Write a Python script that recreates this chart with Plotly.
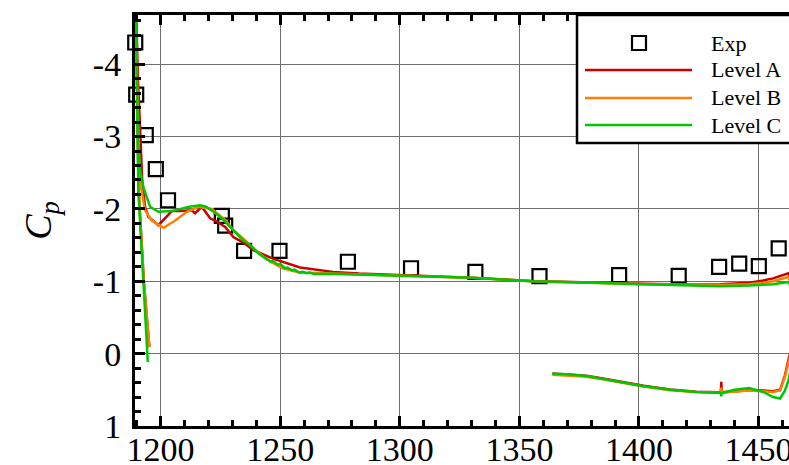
import plotly.graph_objects as go

# ---------------- data ----------------
series_names = ["Exp", "Level A", "Level B", "Level C"]
series_colors = ["black", "#CC0000", "#FF8000", "#00C800"]

exp_x = [1189.4, 1189.8, 1193.8, 1198.0, 1203.1, 1225.6, 1227.0, 1234.9, 1249.7, 1278.3,
         1304.7, 1331.6, 1358.4, 1391.7, 1416.6, 1433.5, 1441.9, 1450.1, 1458.4, 1210.7]
exp_cp = [-4.30, -3.58, -3.02, -2.55, -2.12, -1.905, -1.77, -1.42, -1.42, -1.27,
          -1.18, -1.13, -1.07, -1.085, -1.075, -1.20, -1.245, -1.21, -1.455, 1.01]

# Level A (lower-right surface -> trailing edge -> upper surface -> leading edge -> lower-left)
levelA_x = [1363.8, 1370, 1378, 1385, 1392, 1402, 1413, 1424, 1434.2, 1434.4, 1434.6, 1440, 1446,
            1452, 1456, 1459, 1461, 1462.5, 1468,
            1462.5, 1456, 1452, 1446, 1434, 1420, 1402, 1380, 1355, 1330, 1300, 1283, 1272,
            1258.3, 1247.2, 1238.8, 1235.3, 1230.4, 1227, 1222.8, 1220.7, 1217.2, 1214.4, 1213,
            1208, 1204.7, 1199.1, 1194.9, 1193.5, 1192.3, 1191.4, 1190.5, 1189.7,
            1190.1, 1190.5, 1190.8, 1193.0, 1195.3]
levelA_cp = [0.275, 0.285, 0.305, 0.345, 0.385, 0.445, 0.495, 0.525, 0.535, 0.39, 0.535, 0.52, 0.505,
             0.51, 0.52, 0.50, 0.30, 0.08, -0.6,
             -1.11, -1.04, -1.01, -0.98, -0.96, -0.955, -0.965, -0.98, -1.005, -1.05, -1.085, -1.106, -1.13,
             -1.19, -1.31, -1.43, -1.52, -1.61, -1.75, -1.84, -1.87, -2.03, -1.94, -1.98,
             -1.97, -1.97, -1.775, -1.89, -2.03, -2.4, -3.13, -3.8, -4.9,
             -4.0, -3.0, -2.26, -1.0, -0.09]

# Level B
levelB_x = [1363.8, 1370, 1378, 1385, 1392, 1402, 1413, 1424, 1434.2, 1434.4, 1434.6, 1440, 1446,
            1452, 1456, 1459, 1461, 1462.5, 1468,
            1462.5, 1456, 1452, 1446, 1434, 1420, 1402, 1380, 1355, 1330, 1300, 1283, 1265,
            1258, 1251, 1244, 1237.4, 1235.3, 1230.4, 1227, 1221.4, 1215.8, 1211, 1206.1,
            1201.2, 1196.3, 1193.5, 1191.8, 1191.0, 1190.4, 1190.0, 1189.6,
            1190.1, 1190.5, 1190.8, 1193.0, 1195.3]
levelB_cp = [0.29, 0.30, 0.32, 0.355, 0.395, 0.455, 0.505, 0.53, 0.54, 0.47, 0.54, 0.525, 0.51,
             0.52, 0.53, 0.51, 0.32, 0.12, -0.6,
             -1.06, -1.00, -0.98, -0.96, -0.95, -0.95, -0.96, -0.98, -1.0, -1.05, -1.08, -1.10, -1.11,
             -1.12, -1.18, -1.31, -1.50, -1.57, -1.71, -1.85, -2.0, -2.03, -1.96, -1.84,
             -1.74, -1.84, -1.98, -2.3, -2.7, -3.3, -4.0, -4.9,
             -4.0, -3.0, -2.26, -1.0, -0.09]

# Level C
levelC_x = [1363.8, 1370, 1378, 1385, 1392, 1402, 1413, 1424, 1434.2, 1434.4, 1434.6, 1440, 1446,
            1452, 1456, 1459, 1461, 1462.5, 1468,
            1462.5, 1456, 1452, 1446, 1434, 1420, 1402, 1380, 1355, 1330, 1300, 1283, 1270,
            1264, 1262.5, 1261, 1259.5, 1258, 1256, 1255, 1253, 1252, 1250, 1249, 1247, 1246,
            1244.4, 1241, 1237.4, 1234, 1230.4, 1226, 1222.1, 1219, 1216.5, 1212, 1204.7,
            1199.1, 1195.6, 1192.8, 1191.4, 1190.7, 1190.2, 1189.9, 1189.6,
            1190.1, 1190.5, 1190.7, 1192.8, 1194.65]
levelC_cp = [0.277, 0.285, 0.31, 0.35, 0.39, 0.45, 0.50, 0.53, 0.545, 0.59, 0.545, 0.50, 0.475,
             0.53, 0.60, 0.62, 0.51, 0.37, -0.6,
             -0.99, -0.96, -0.95, -0.94, -0.93, -0.94, -0.96, -0.98, -1.0, -1.05, -1.08, -1.10, -1.105,
             -1.10, -1.12, -1.11, -1.13, -1.12, -1.16, -1.15, -1.19, -1.18, -1.24, -1.23, -1.28, -1.27,
             -1.31, -1.38, -1.50, -1.58, -1.71, -1.86, -1.96, -2.03, -2.05, -2.03, -1.97,
             -1.96, -2.03, -2.30, -2.54, -2.9, -3.5, -4.2, -4.9,
             -4.0, -3.0, -2.26, -1.0, 0.116]

x_ticks = [1200, 1250, 1300, 1350, 1400, 1450]
y_ticks = [-4, -3, -2, -1, 0, 1]
y_ticktext = ["-4", "-3", "-2", "-1", "0", "1"]

# ---------------- figure ----------------
W, H = 789, 465
ML, MR, MT, MB = 135, 0, 15, 39
PW, PH = W - ML - MR, H - MT - MB

def px2paper(px, py):
    return (px - ML) / PW, (H - MB - py) / PH

fig = go.Figure()
fig.add_trace(go.Scatter(x=exp_x, y=exp_cp, mode="markers", name=series_names[0],
                         marker=dict(symbol="square-open", size=14, color="black",
                                     line=dict(width=2.2, color="black")),
                         cliponaxis=False))
for xs, ys, nm, col in [(levelA_x, levelA_cp, series_names[1], series_colors[1]),
                        (levelB_x, levelB_cp, series_names[2], series_colors[2]),
                        (levelC_x, levelC_cp, series_names[3], series_colors[3])]:
    fig.add_trace(go.Scatter(x=xs, y=ys, mode="lines", name=nm,
                             line=dict(color=col, width=2.5)))

tickfont = dict(family="Liberation Serif", size=34, color="black")
axis_common = dict(showline=True, linecolor="black", linewidth=3,
                   ticks="inside", ticklen=10, tickwidth=2.5, tickcolor="black",
                   showgrid=True, gridcolor="#6e6e6e", gridwidth=1,
                   zeroline=False, tickfont=tickfont, ticklabeloverflow="allow")

fig.update_layout(
    width=W, height=H,
    margin=dict(l=ML, r=MR, t=MT, b=MB, autoexpand=False),
    paper_bgcolor="white", plot_bgcolor="white",
    showlegend=False,
    xaxis=dict(range=[1189.3, 1189.3 + PW / 2.392], tickmode="array", tickvals=x_ticks,
               mirror="ticks", ticklabelstandoff=-9,
               minor=dict(tickmode="linear", tick0=1200, dtick=10, ticks="inside", ticklen=6,
                          tickwidth=2.5, tickcolor="black", showgrid=False),
               **axis_common),
    yaxis=dict(range=[1, -4.68], tickmode="array", tickvals=y_ticks, ticktext=y_ticktext,
               mirror=False, ticklabelstandoff=4,
               minor=dict(tickmode="linear", tick0=0, dtick=0.2, ticks="inside", ticklen=6,
                          tickwidth=2.5, tickcolor="black", showgrid=False),
               title=dict(text="<i>C</i><sub><i>p</i></sub>",
                          font=dict(family="Liberation Serif", size=38, color="black"),
                          standoff=30),
               **axis_common),
)

# ---------------- manual legend ----------------
bx0, by1 = px2paper(577, 15)
bx1, by0 = px2paper(805, 143)
fig.add_shape(type="rect", xref="paper", yref="paper", x0=bx0, x1=bx1, y0=by0, y1=by1,
              line=dict(color="black", width=2.5), fillcolor="white", layer="above")
legend_rows_py = [43, 70, 98, 125]
for i, nm in enumerate(series_names):
    _, ly = px2paper(0, legend_rows_py[i])
    if i == 0:
        cx, _ = px2paper(639, 0)
        fig.add_shape(type="rect", xref="paper", yref="paper", xsizemode="pixel", ysizemode="pixel",
                      xanchor=cx, yanchor=ly, x0=-7, x1=7, y0=-7, y1=7,
                      line=dict(color="black", width=2.2), layer="above")
    else:
        lx0, _ = px2paper(585, 0)
        lx1, _ = px2paper(692, 0)
        fig.add_shape(type="line", xref="paper", yref="paper", x0=lx0, x1=lx1, y0=ly, y1=ly,
                      line=dict(color=series_colors[i], width=2.5), layer="above")
    tx, _ = px2paper(709, 0)
    fig.add_annotation(xref="paper", yref="paper", x=tx, y=ly, text=nm, showarrow=False,
                       xanchor="left", yanchor="middle",
                       font=dict(family="Liberation Serif", size=22, color="black"))

fig.write_html("out.html", config={"displayModeBar": False},
               post_script="document.body.style.margin='0';document.body.style.overflow='hidden';")
